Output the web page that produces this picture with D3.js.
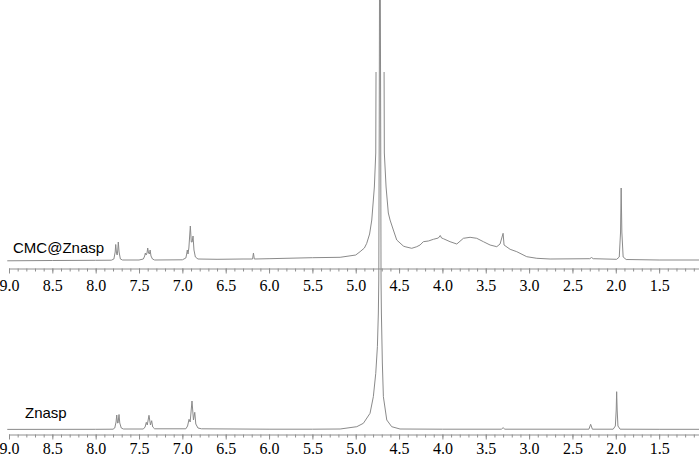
<!DOCTYPE html>
<html>
<head>
<meta charset="utf-8">
<script src="https://cdn.jsdelivr.net/npm/d3@7"></script>
<style>
  html, body { margin: 0; padding: 0; background: #fff; }
  svg { display: block; }
</style>
</head>
<body>
<svg id="chart" width="699" height="457"></svg>
<script>
// ---- data (chemical shift in ppm, intensity in arbitrary units) ----
const sampleNames = ["CMC@Znasp", "Znasp"];

const cmcSpectrum = [
  [9.02, 1.2], [8.5, 1.5], [8.0, 1.7], [7.82, 1.8], [7.79, 3], [7.775, 10], [7.769, 17.5],
  [7.760, 9], [7.752, 7], [7.745, 12], [7.739, 20], [7.730, 10], [7.715, 3], [7.69, 2],
  [7.50, 2], [7.45, 3], [7.435, 6], [7.427, 9], [7.418, 7], [7.408, 9], [7.400, 14],
  [7.390, 9], [7.380, 8], [7.372, 12], [7.362, 6], [7.345, 3], [7.32, 2],
  [7.00, 2.2], [6.96, 4], [6.950, 8], [6.943, 12], [6.935, 8], [6.925, 14], [6.908, 36],
  [6.897, 20], [6.887, 20], [6.877, 26], [6.866, 12], [6.850, 5], [6.82, 3],
  [6.60, 2.7], [6.30, 3], [6.19, 3], [6.18, 9], [6.17, 3], [6.00, 3.3], [5.50, 4.3],
  [5.18, 4.7], [5.00, 7], [4.95, 10.3], [4.90, 14], [4.873, 18.7], [4.84, 28], [4.815, 42],
  [4.785, 75], [4.769, 109], [4.766, 190], [4.72, 400], [4.673, 190], [4.670, 109],
  [4.650, 75], [4.624, 49], [4.604, 42], [4.566, 32], [4.527, 22], [4.451, 16], [4.431, 15.3],
  [4.354, 13.7], [4.296, 15.3], [4.258, 17], [4.220, 20.3], [4.162, 21], [4.104, 22.7],
  [4.047, 24], [4.025, 26.5], [4.010, 24], [3.989, 23.3], [3.912, 20.3], [3.834, 18],
  [3.758, 23.7], [3.681, 24.7], [3.604, 23.7], [3.527, 20.3], [3.450, 17], [3.373, 15.3],
  [3.335, 18], [3.300, 28.7], [3.289, 17], [3.219, 12.7], [3.142, 10.3], [3.027, 5.3],
  [2.911, 3.7], [2.758, 3], [2.30, 3.3], [2.28, 4.5], [2.26, 3.3], [1.99, 2.7],
  [1.96, 5], [1.945, 30], [1.938, 74], [1.930, 30], [1.915, 5], [1.88, 2.5],
  [1.50, 2], [1.04, 2]
];

const znaspSpectrum = [
  [9.02, 0.6], [8.0, 0.7], [7.80, 0.8], [7.78, 2], [7.765, 8], [7.757, 15], [7.748, 7],
  [7.742, 7], [7.731, 15.5], [7.722, 7], [7.705, 2], [7.68, 1],
  [7.45, 1], [7.43, 3], [7.416, 7.7], [7.405, 5], [7.385, 14.7], [7.368, 5], [7.354, 9.3],
  [7.342, 3], [7.32, 1.2],
  [6.96, 1.2], [6.94, 4], [6.923, 10.7], [6.910, 8], [6.889, 29], [6.872, 10], [6.857, 17.7],
  [6.845, 6], [6.82, 2], [6.78, 1.2],
  [6.0, 0.8], [5.5, 0.8], [5.18, 1], [4.988, 3.3], [4.912, 6.7], [4.835, 16.7], [4.797, 33.3],
  [4.769, 56.7], [4.750, 83.3], [4.739, 117], [4.734, 150], [4.729, 300], [4.726, 430],
  [4.721, 520], [4.716, 430], [4.712, 300], [4.708, 150], [4.704, 117], [4.693, 67],
  [4.681, 33.3], [4.642, 10], [4.585, 3.3], [4.489, 1],
  [4.0, 0.8], [3.32, 0.8], [3.30, 2.3], [3.28, 0.8], [2.31, 0.8], [2.29, 5.7], [2.27, 0.8],
  [2.03, 0.8], [2.005, 4], [1.995, 20], [1.99, 38.3], [1.984, 20], [1.975, 4], [1.95, 0.8],
  [1.5, 0.7], [1.04, 0.7]
];

const majorTicks = [9.0, 8.5, 8.0, 7.5, 7.0, 6.5, 6.0, 5.5, 5.0, 4.5, 4.0, 3.5, 3.0, 2.5, 2.0, 1.5];
const tickLabels = ["9.0", "8.5", "8.0", "7.5", "7.0", "6.5", "6.0", "5.5", "5.0", "4.5", "4.0", "3.5", "3.0", "2.5", "2.0", "1.5"];
const minorTicks = d3.range(90, 10, -1).map(v => v / 10);

// ---- drawing ----
const svg = d3.select("#chart");
const traceColor = "#8a8a8a";
const axisColor = "#8f8f8f";

const x = d3.scaleLinear().domain([9.0, 1.04]).range([9, 699]);

const topClip = 190;
const yTop = d3.scaleLinear().domain([0, topClip]).range([262, 72]);
const yBot = d3.scaleLinear().domain([0, 430]).range([430, 0]);

function drawAxis(yPos, labelBaseline) {
  const g = svg.append("g").attr("transform", `translate(0,${yPos})`);
  const minor = g.append("g").call(
    d3.axisBottom(x).tickValues(minorTicks).tickSize(3).tickSizeOuter(0).tickFormat(() => "")
  );
  minor.select(".domain").attr("stroke", axisColor).attr("stroke-width", 1);
  minor.selectAll(".tick line").attr("stroke", axisColor);

  const major = g.append("g").call(
    d3.axisBottom(x).tickValues(majorTicks).tickSize(5).tickSizeOuter(0)
      .tickFormat((d, i) => tickLabels[i])
  );
  major.attr("font-family", "Liberation Serif").attr("font-size", 16);
  major.select(".domain").remove();
  major.selectAll(".tick line").attr("stroke", axisColor);
  major.selectAll(".tick text")
    .style("font-family", "Liberation Serif")
    .style("font-size", "16px")
    .attr("fill", "#000")
    .attr("dy", null)
    .attr("y", labelBaseline - yPos);
}

drawAxis(268.5, 291);
drawAxis(434.5, 454);

// bottom spectrum (drawn first; its huge peak runs through the top panel)
svg.append("path")
  .datum(znaspSpectrum)
  .attr("fill", "none")
  .attr("stroke", traceColor)
  .attr("stroke-width", 1)
  .attr("d", d3.line().x(d => x(d[0])).y(d => yBot(d[1])));

svg.append("path")
  .datum(cmcSpectrum)
  .attr("fill", "none")
  .attr("stroke", traceColor)
  .attr("stroke-width", 1)
  .attr("d", d3.line().defined(d => d[1] <= topClip).x(d => x(d[0])).y(d => yTop(d[1])));

// sample labels
svg.append("text").attr("x", 13).attr("y", 253)
  .style("font-family", "Liberation Sans").style("font-size", "15px")
  .attr("fill", "#000").text(sampleNames[0]);
svg.append("text").attr("x", 25).attr("y", 418)
  .style("font-family", "Liberation Sans").style("font-size", "15px")
  .attr("fill", "#000").text(sampleNames[1]);
</script>
</body>
</html>
